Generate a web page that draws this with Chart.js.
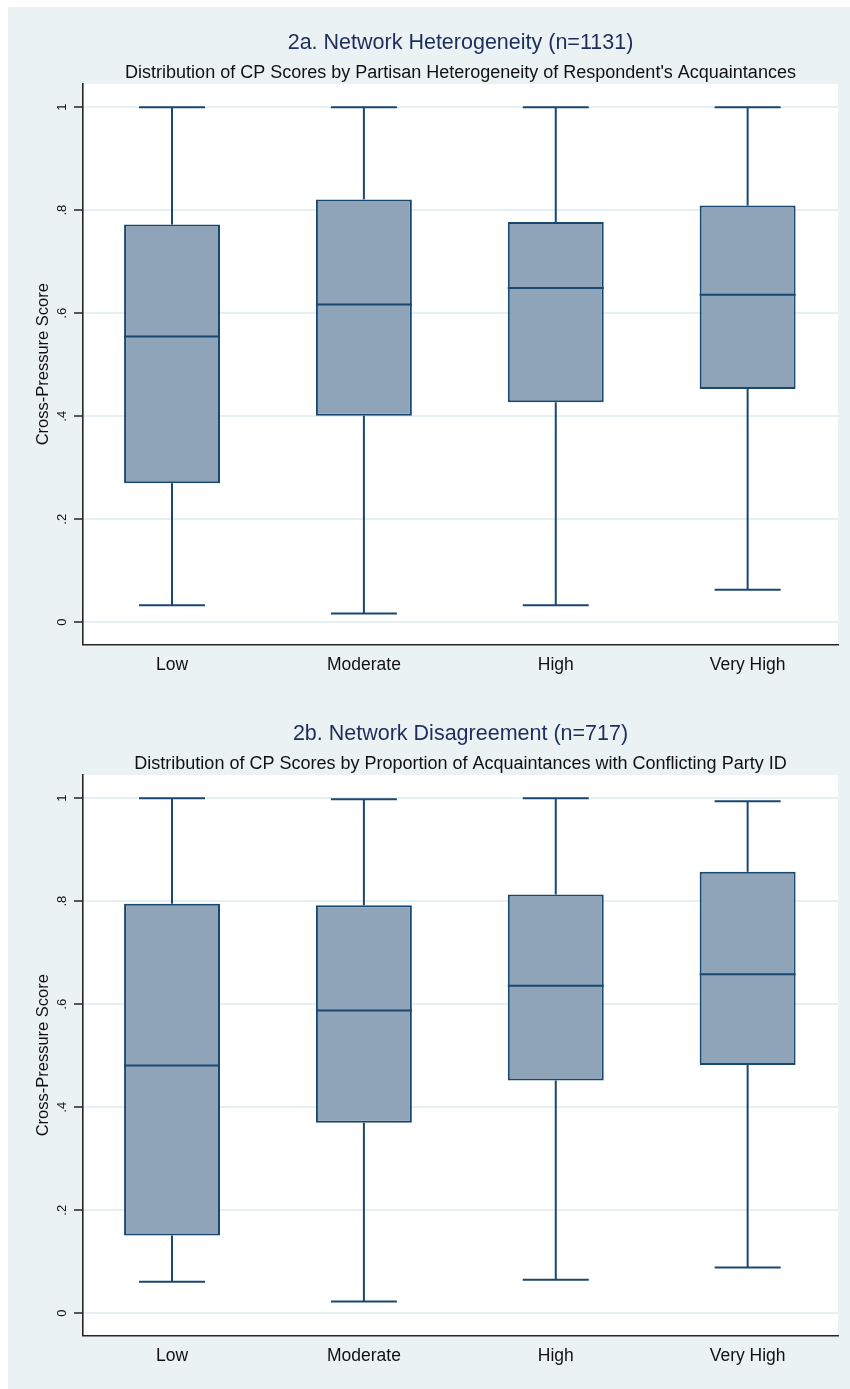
<!DOCTYPE html>
<html>
<head>
<meta charset="utf-8">
<title>Cross-Pressure Scores by Network Characteristics</title>
<script src="https://cdn.jsdelivr.net/npm/chart.js@4.4.1/dist/chart.umd.min.js"></script>
<style>
  html, body { margin: 0; padding: 0; background: #ffffff; }
  body { width: 850px; height: 1389px; position: relative; overflow: hidden; }
  #backdrop { position: absolute; left: 8px; top: 7px; right: 0; bottom: 0; background: #eaf2f3; }
  .panel { position: absolute; left: 0; width: 850px; height: 691px; }
  #panelA { top: 0; }
  #panelB { top: 691px; }
</style>
</head>
<body>
<div id="backdrop"></div>
<div class="panel" id="panelA"><canvas id="chartA" width="850" height="691"></canvas></div>
<div class="panel" id="panelB"><canvas id="chartB" width="850" height="691"></canvas></div>
<script>
// Categories shared by both panels
const categories = ['Low', 'Moderate', 'High', 'Very High'];

// Y-axis ticks and their labels
const yTickValues = [0, 0.2, 0.4, 0.6, 0.8, 1];
const yTickLabels = ['0', '.2', '.4', '.6', '.8', '1'];

// 2a. Network heterogeneity: box-plot statistics per category
const heteroLow    = [0.033, 0.017, 0.033, 0.063];
const heteroQ1     = [0.270, 0.401, 0.427, 0.453];
const heteroMedian = [0.555, 0.617, 0.649, 0.636];
const heteroQ3     = [0.772, 0.821, 0.777, 0.809];
const heteroHigh   = [1.000, 1.000, 1.000, 1.000];

// 2b. Network disagreement: box-plot statistics per category
const disagreeLow    = [0.061, 0.023, 0.065, 0.089];
const disagreeQ1     = [0.151, 0.370, 0.452, 0.482];
const disagreeMedian = [0.481, 0.588, 0.636, 0.658];
const disagreeQ3     = [0.795, 0.792, 0.813, 0.857];
const disagreeHigh   = [1.000, 0.998, 1.000, 0.994];

const FONT = "'Liberation Sans', Arial, Helvetica, sans-serif";
const NAVY = '#1a476f';
const BOX_FILL = '#8fa4b8';
const GRID = '#e6eff1';
const CAP_WIDTH = 0.344; // whisker cap width, in category units

// White plot region on top of the light figure background
const plotBackground = {
  id: 'plotBackground',
  beforeDraw(chart) {
    const { ctx, chartArea: a } = chart;
    ctx.save();
    ctx.fillStyle = '#ffffff';
    ctx.fillRect(a.left, a.top, a.right - a.left, a.bottom - a.top);
    ctx.restore();
  }
};

// Whiskers, caps and median lines for every box
const boxWhiskers = {
  id: 'boxWhiskers',
  afterDatasetsDraw(chart) {
    const { ctx, scales: { x, y } } = chart;
    const ds = chart.data.datasets[0];
    const meta = chart.getDatasetMeta(0);
    const seg = (x1, y1, x2, y2) => { ctx.beginPath(); ctx.moveTo(x1, y1); ctx.lineTo(x2, y2); ctx.stroke(); };
    ctx.save();
    ctx.strokeStyle = NAVY;
    ctx.lineWidth = 2;
    ctx.lineCap = 'butt';
    meta.data.forEach((bar, i) => {
      const { x: bx, width: bw } = bar.getProps(['x', 'width'], true);
      const cx = x.getPixelForValue(i);
      const half = Math.abs(x.getPixelForValue(i + CAP_WIDTH / 2) - cx);
      const yLo = y.getPixelForValue(ds.whiskerLow[i]);
      const yHi = y.getPixelForValue(ds.whiskerHigh[i]);
      const yQ1 = y.getPixelForValue(ds.q1[i]);
      const yQ3 = y.getPixelForValue(ds.q3[i]);
      const yMed = y.getPixelForValue(ds.median[i]);
      seg(cx, yQ3, cx, yHi);
      seg(cx - half, yHi, cx + half, yHi);
      seg(cx, yQ1, cx, yLo);
      seg(cx - half, yLo, cx + half, yLo);
      seg(bx - bw / 2, yMed, bx + bw / 2, yMed);
    });
    ctx.restore();
  }
};

function makeBoxChart(canvasId, titleText, subtitleText, lo, q1, med, q3, hi) {
  return new Chart(document.getElementById(canvasId), {
    type: 'bar',
    data: {
      datasets: [{
        data: categories.map((_, i) => ({ x: i, y: [q1[i], q3[i]] })),
        whiskerLow: lo, q1: q1, median: med, q3: q3, whiskerHigh: hi,
        backgroundColor: BOX_FILL,
        borderColor: NAVY,
        borderWidth: 2,
        borderSkipped: false,
        barPercentage: 0.5,
        categoryPercentage: 1
      }]
    },
    options: {
      responsive: false,
      animation: false,
      events: [],
      layout: { padding: { left: 0, right: 12, top: 0, bottom: 0 } },
      plugins: {
        legend: { display: false },
        tooltip: { enabled: false },
        title: {
          display: true,
          text: titleText,
          fullSize: false,
          color: '#1f2d5c',
          font: { family: FONT, size: 21.5, weight: 'normal', lineHeight: 1.2 },
          padding: { top: 30.6, bottom: 0 }
        },
        subtitle: {
          display: true,
          text: subtitleText,
          fullSize: false,
          color: '#111111',
          font: { family: FONT, size: 18, weight: 'normal', lineHeight: 1.2 },
          padding: { top: 6, bottom: 0 }
        }
      },
      scales: {
        x: {
          type: 'linear',
          offset: false,
          min: -0.464,
          max: 3.471,
          afterBuildTicks(scale) { scale.ticks = categories.map((_, i) => ({ value: i })); },
          afterFit(scale) { scale.height = 691 - 644.4; },
          grid: { display: false, drawTicks: false, offset: false },
          border: { display: true, color: '#262626', width: 1.6 },
          ticks: {
            padding: 10,
            color: '#111111',
            font: { family: FONT, size: 17.5 },
            maxRotation: 0,
            autoSkip: false,
            callback: (value) => categories[Math.round(value)]
          }
        },
        y: {
          type: 'linear',
          min: -0.043,
          max: 1.045,
          afterBuildTicks(scale) { scale.ticks = yTickValues.map(v => ({ value: v })); },
          afterFit(scale) { scale.width = 83; },
          grid: {
            color: GRID,
            lineWidth: 2,
            drawTicks: true,
            tickLength: 9,
            tickColor: '#262626',
            tickWidth: 1.5
          },
          border: { display: true, color: '#262626', width: 1.6 },
          ticks: {
            minRotation: 90,
            maxRotation: 90,
            crossAlign: 'center',
            padding: 6,
            color: '#111111',
            font: { family: FONT, size: 13 },
            callback: (value) => yTickLabels[yTickValues.findIndex(v => Math.abs(v - value) < 1e-9)]
          },
          title: {
            display: true,
            text: 'Cross-Pressure Score',
            color: '#111111',
            font: { family: FONT, size: 16.5, lineHeight: 1.2 },
            padding: { top: 34, bottom: 0 }
          }
        }
      }
    },
    plugins: [plotBackground, boxWhiskers]
  });
}

makeBoxChart('chartA',
  '2a. Network Heterogeneity (n=1131)',
  "Distribution of CP Scores by Partisan Heterogeneity of Respondent's Acquaintances",
  heteroLow, heteroQ1, heteroMedian, heteroQ3, heteroHigh);

makeBoxChart('chartB',
  '2b. Network Disagreement (n=717)',
  'Distribution of CP Scores by Proportion of Acquaintances with Conflicting Party ID',
  disagreeLow, disagreeQ1, disagreeMedian, disagreeQ3, disagreeHigh);
</script>
</body>
</html>
